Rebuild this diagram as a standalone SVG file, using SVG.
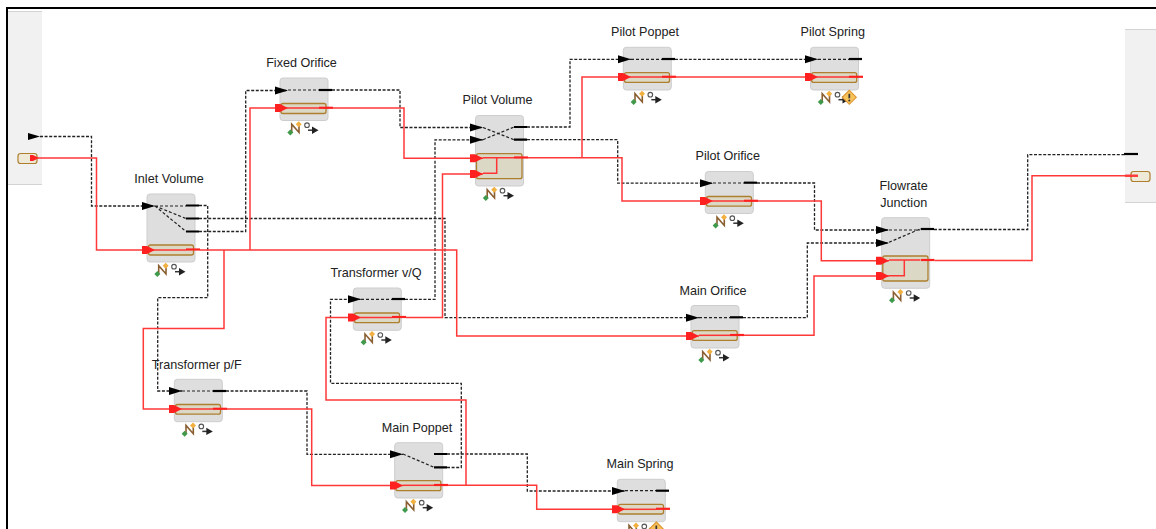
<svg xmlns="http://www.w3.org/2000/svg" xmlns:xlink="http://www.w3.org/1999/xlink" width="1156" height="529" viewBox="0 0 1156 529">
<style>
.panel{fill:#f1f1f1}
.panelline{stroke:#d4d4d4;stroke-width:1;fill:none}
.body{fill:#dedede;stroke:#cdcdcd;stroke-width:1}
.inner{fill:#dcd8c6;stroke:#ad7f2f;stroke-width:1.3}
.stub{stroke:#000;stroke-width:2.2;fill:none}
.rstub{stroke:#ff2020;stroke-width:2.2;fill:none}
.sig{stroke:#222;stroke-width:1.2;stroke-dasharray:3 2;fill:none}
.flow{stroke:#ff3535;stroke-width:1.5;fill:none}
.lbl{font-family:"Liberation Sans",Arial,sans-serif;font-size:12.6px;fill:#222;text-anchor:middle}
.conn-s{stroke:#222;stroke-width:1.3;stroke-dasharray:3 1.6;fill:none;marker-end:url(#ab)}
.conn-f{stroke:#ff3838;stroke-width:1.5;fill:none;marker-end:url(#ar)}
.conn-sp{stroke:#222;stroke-width:1.3;stroke-dasharray:3 1.6;fill:none}
.conn-fp{stroke:#ff3838;stroke-width:1.5;fill:none}
</style>
<defs>
<marker id="ab" markerUnits="userSpaceOnUse" markerWidth="13" markerHeight="9" refX="13" refY="4.5" orient="auto"><path d="M0 0.500L13 4.500L0 8.500Z" fill="#000"/></marker>
<marker id="ar" markerUnits="userSpaceOnUse" markerWidth="13" markerHeight="9" refX="13" refY="4.5" orient="auto"><path d="M0 0.500H5L13 4.500L5 8.500H0Z" fill="#ff2020"/></marker>
<g id="badge">
<path d="M11.700 12V3.700L19 12V4.700" fill="none" stroke="#8a5f32" stroke-width="1.600"/>
<path d="M18.700 0.700L21.700 3.700L18.700 6.700L15.700 3.700Z" fill="#f2b040"/>
<path d="M10.300 9L13.300 12L10.300 15L7.300 12Z" fill="#3f9a4c"/>
<circle cx="27" cy="4.700" r="2.300" fill="#fff" stroke="#555" stroke-width="1.100"/>
<path d="M28 9.700H33" stroke="#333" stroke-width="1.500" fill="none"/>
<path d="M32 6L38.500 9.700L32 13.400Z" fill="#222"/>
</g>
<g id="warn">
<path d="M0 -7L7 0L0 7L-7 0Z" fill="#f7c25a" stroke="#dd9530" stroke-width="1.100"/>
<path d="M0 -3.500V1" stroke="#333" stroke-width="1.700"/>
<circle cx="0" cy="3.200" r="1" fill="#333"/>
</g>
</defs>
<rect width="1156" height="529" fill="#fff"/>
<g id="frame"><path d="M7 529V8H1156" fill="none" stroke="#000" stroke-width="2"/></g>

<g id="port-in">
<rect class="panel" x="8" y="12" width="34" height="173"/>
<path class="panelline" d="M8 11.500H42M8 184.500H42"/>
<path d="M28 133L40 136.500L28 140Z" fill="#000"/>
<rect x="18" y="153.500" width="19" height="10" rx="2.500" fill="#efe9d8" stroke="#ad7f2f" stroke-width="1.200"/>
<path d="M30 155H33L39 158L33 161H30Z" fill="#ff2020"/>
</g>
<g id="port-out">
<rect class="panel" x="1125" y="30" width="31" height="172"/>
<path class="panelline" d="M1125 29.500H1156M1125 202.500H1156"/>
<path class="stub" d="M1124 154H1138"/>
<rect x="1131" y="171.500" width="19" height="10" rx="2.500" fill="#efe9d8" stroke="#ad7f2f" stroke-width="1.200"/>
<path class="rstub" d="M1125 175.700H1138"/>
</g>

<g id="inlet-volume">
<text class="lbl" x="169" y="183">Inlet Volume</text>
<rect class="body" x="147" y="194" width="48" height="68" rx="3"/>
<rect class="inner" x="148.500" y="245" width="45" height="10" rx="2"/>
<path class="sig" d="M155 206H186M155 206L186 218.500M155 206L186 231.500"/>
<path class="stub" d="M186 205.500H199M186 218.500H199M186 231.500H199"/>
<path class="flow" d="M155 250H186"/><path class="rstub" d="M186 249.500H200"/>
<use xlink:href="#badge" href="#badge" x="147" y="262"/>
</g>
<g id="fixed-orifice">
<text class="lbl" x="301.500" y="67">Fixed Orifice</text>
<rect class="body" x="280" y="78" width="48" height="42.500" rx="3"/>
<rect class="inner" x="281" y="103.500" width="45" height="10" rx="2"/>
<path class="sig" d="M288 90H319"/><path class="stub" d="M319 90H332"/>
<path class="flow" d="M288 108H319"/><path class="rstub" d="M319 107.800H333"/>
<use xlink:href="#badge" href="#badge" x="280" y="120.500"/>
</g>
<g id="pilot-volume">
<text class="lbl" x="497.500" y="104">Pilot Volume</text>
<rect class="body" x="475.500" y="115.500" width="48" height="70.500" rx="3"/>
<rect class="inner" x="476.500" y="153.700" width="45.500" height="25" rx="2"/>
<path class="sig" d="M483 127.500L514 139.700M483 139.700L514 127"/>
<path class="stub" d="M514 127H527M514 139.700H527"/>
<path class="flow" d="M483 157.800H514M483 173.300H496.700V157.800"/>
<path class="rstub" d="M514 157.500H528"/>
<use xlink:href="#badge" href="#badge" x="475.500" y="186"/>
</g>
<g id="pilot-poppet">
<text class="lbl" x="645" y="36">Pilot Poppet</text>
<rect class="body" x="623.300" y="47.300" width="48" height="42.700" rx="3"/>
<rect class="inner" x="624.500" y="72.700" width="45" height="9.700" rx="2"/>
<path class="sig" d="M631 59.300H662"/><path class="stub" d="M662 59H675"/>
<path class="flow" d="M631 77H662"/><path class="rstub" d="M662 76.800H676"/>
<use xlink:href="#badge" href="#badge" x="623.300" y="90"/>
</g>
<g id="pilot-spring">
<text class="lbl" x="832.700" y="36">Pilot Spring</text>
<rect class="body" x="810.500" y="47.300" width="48" height="42.700" rx="3"/>
<rect class="inner" x="811.700" y="72.700" width="45" height="9.700" rx="2"/>
<path class="sig" d="M818 59.300H849"/><path class="stub" d="M849 59H862"/>
<path class="flow" d="M818 77H849"/><path class="rstub" d="M849 76.800H863"/>
<use xlink:href="#badge" href="#badge" x="810.500" y="90"/>
<use xlink:href="#warn" href="#warn" x="849.300" y="97.300"/>
</g>
<g id="pilot-orifice">
<text class="lbl" x="727.700" y="160">Pilot Orifice</text>
<rect class="body" x="705.300" y="171.500" width="48" height="42" rx="3"/>
<rect class="inner" x="706.500" y="196.500" width="45" height="9.700" rx="2"/>
<path class="sig" d="M713 183H744"/><path class="stub" d="M744 182.700H757"/>
<path class="flow" d="M713 201H744"/><path class="rstub" d="M744 200.800H758"/>
<use xlink:href="#badge" href="#badge" x="705.300" y="213.500"/>
</g>
<g id="main-orifice">
<text class="lbl" x="713" y="294.500">Main Orifice</text>
<rect class="body" x="691" y="305.500" width="48" height="42.500" rx="3"/>
<rect class="inner" x="692.200" y="330.700" width="45" height="9.700" rx="2"/>
<path class="sig" d="M699 317.700H730"/><path class="stub" d="M730 317.300H743"/>
<path class="flow" d="M699 335.300H730"/><path class="rstub" d="M730 335H744"/>
<use xlink:href="#badge" href="#badge" x="691" y="348"/>
</g>
<g id="flowrate-junction">
<text class="lbl" x="903.700" y="190">Flowrate</text>
<text class="lbl" x="903.700" y="206.500">Junction</text>
<rect class="body" x="881.700" y="217.700" width="48" height="70.600" rx="3"/>
<rect class="inner" x="882.800" y="256" width="45.200" height="25" rx="2"/>
<path class="sig" d="M889 230H920M889 242.300L920 229"/>
<path class="stub" d="M920.700 229H934"/>
<path class="flow" d="M889 260H920M889 275.700H904.300V260"/>
<path class="rstub" d="M920.700 260H934.500"/>
<use xlink:href="#badge" href="#badge" x="881.700" y="288.300"/>
</g>
<g id="transformer-vq">
<text class="lbl" x="376" y="277">Transformer v/Q</text>
<rect class="body" x="353.300" y="288" width="48" height="42.300" rx="3"/>
<rect class="inner" x="354.500" y="313" width="45" height="9.700" rx="2"/>
<path class="sig" d="M361 299.300H392"/><path class="stub" d="M392 299H405"/>
<path class="flow" d="M361 317.500H392"/><path class="rstub" d="M392 317H406"/>
<use xlink:href="#badge" href="#badge" x="353.300" y="330.300"/>
</g>
<g id="transformer-pf">
<text class="lbl" x="196.700" y="369">Transformer p/F</text>
<rect class="body" x="174.300" y="379.300" width="48" height="42.400" rx="3"/>
<rect class="inner" x="175.500" y="404.500" width="45" height="9.700" rx="2"/>
<path class="sig" d="M182 391H213"/><path class="stub" d="M213 391H226"/>
<path class="flow" d="M182 409H213"/><path class="rstub" d="M213 408.800H227"/>
<use xlink:href="#badge" href="#badge" x="174.300" y="421.700"/>
</g>
<g id="main-poppet">
<text class="lbl" x="417" y="431.500">Main Poppet</text>
<rect class="body" x="394.700" y="442.700" width="48" height="55.300" rx="3"/>
<rect class="inner" x="395.900" y="480.700" width="45" height="10" rx="2"/>
<path class="sig" d="M403 454L434 467.300"/>
<path class="stub" d="M434 454H447M434 467.300H447"/>
<path class="flow" d="M403 485.300H434"/><path class="rstub" d="M434 485H448"/>
<use xlink:href="#badge" href="#badge" x="394.700" y="498"/>
</g>
<g id="main-spring">
<text class="lbl" x="640" y="468">Main Spring</text>
<rect class="body" x="617.300" y="479.300" width="48" height="42.400" rx="3"/>
<rect class="inner" x="618.500" y="504.300" width="45" height="9.700" rx="2"/>
<path class="sig" d="M625 490.700H656"/><path class="stub" d="M656 490.700H669"/>
<path class="flow" d="M625 509.300H656"/><path class="rstub" d="M656 508.800H670"/>
<use xlink:href="#badge" href="#badge" x="617.300" y="521.700"/>
<use xlink:href="#warn" href="#warn" x="656.300" y="529"/>
</g>

<g id="connectors">
<path class="conn-s" d="M40 136.500H91.500V206H155"/>
<path class="conn-s" d="M199 205.500H207.700V297.700H157.700V391H182"/>
<path class="conn-s" d="M199 218.500H445V317.700H699"/>
<path class="conn-s" d="M199 231.500H245.700V90.500H288"/>
<path class="conn-s" d="M332 90H400V127.500H483"/>
<path class="conn-s" d="M405 299.300H435V139.800H483"/>
<path class="conn-s" d="M447 467.500H461.300V383.300H330.500V299.300H361"/>
<path class="conn-s" d="M447 454H527.300V491H625"/>
<path class="conn-s" d="M226 391H307V454.300H403"/>
<path class="conn-s" d="M527 127H570V59.300H631"/>
<path class="conn-s" d="M527 139.700H617.700V183.200H713"/>
<path class="conn-s" d="M675 59.300H818"/>
<path class="conn-s" d="M757 183H814.500V230H889"/>
<path class="conn-s" d="M743 317.700H807.300V243H889"/>
<path class="conn-sp" d="M934 229.500H1027.700V154.700H1125"/>

<path class="conn-f" d="M38 158H96.500V250H155"/>
<path class="conn-f" d="M200 250H456.700V336H699"/>
<path class="conn-f" d="M224 250V328.500H143.300V409H182"/>
<path class="conn-f" d="M250 250V108H288"/>
<path class="conn-f" d="M333 108H404V158.300H483"/>
<path class="conn-f" d="M528 157.800H622V201H713"/>
<path class="conn-f" d="M582 157.800V77H631"/>
<path class="conn-f" d="M676 77H818"/>
<path class="conn-f" d="M406 317.500H442.500V174H483"/>
<path class="conn-f" d="M466 485.300V400H326V317.500H361"/>
<path class="conn-f" d="M448 485.300H536.700V509.300H625"/>
<path class="conn-f" d="M227 409H311.700V485.500H403"/>
<path class="conn-f" d="M758 201H821.300V260.700H889"/>
<path class="conn-f" d="M744 335.300H814V276H889"/>
<path class="conn-fp" d="M934.500 260.500H1032V175.700H1138"/>
</g>
</svg>
